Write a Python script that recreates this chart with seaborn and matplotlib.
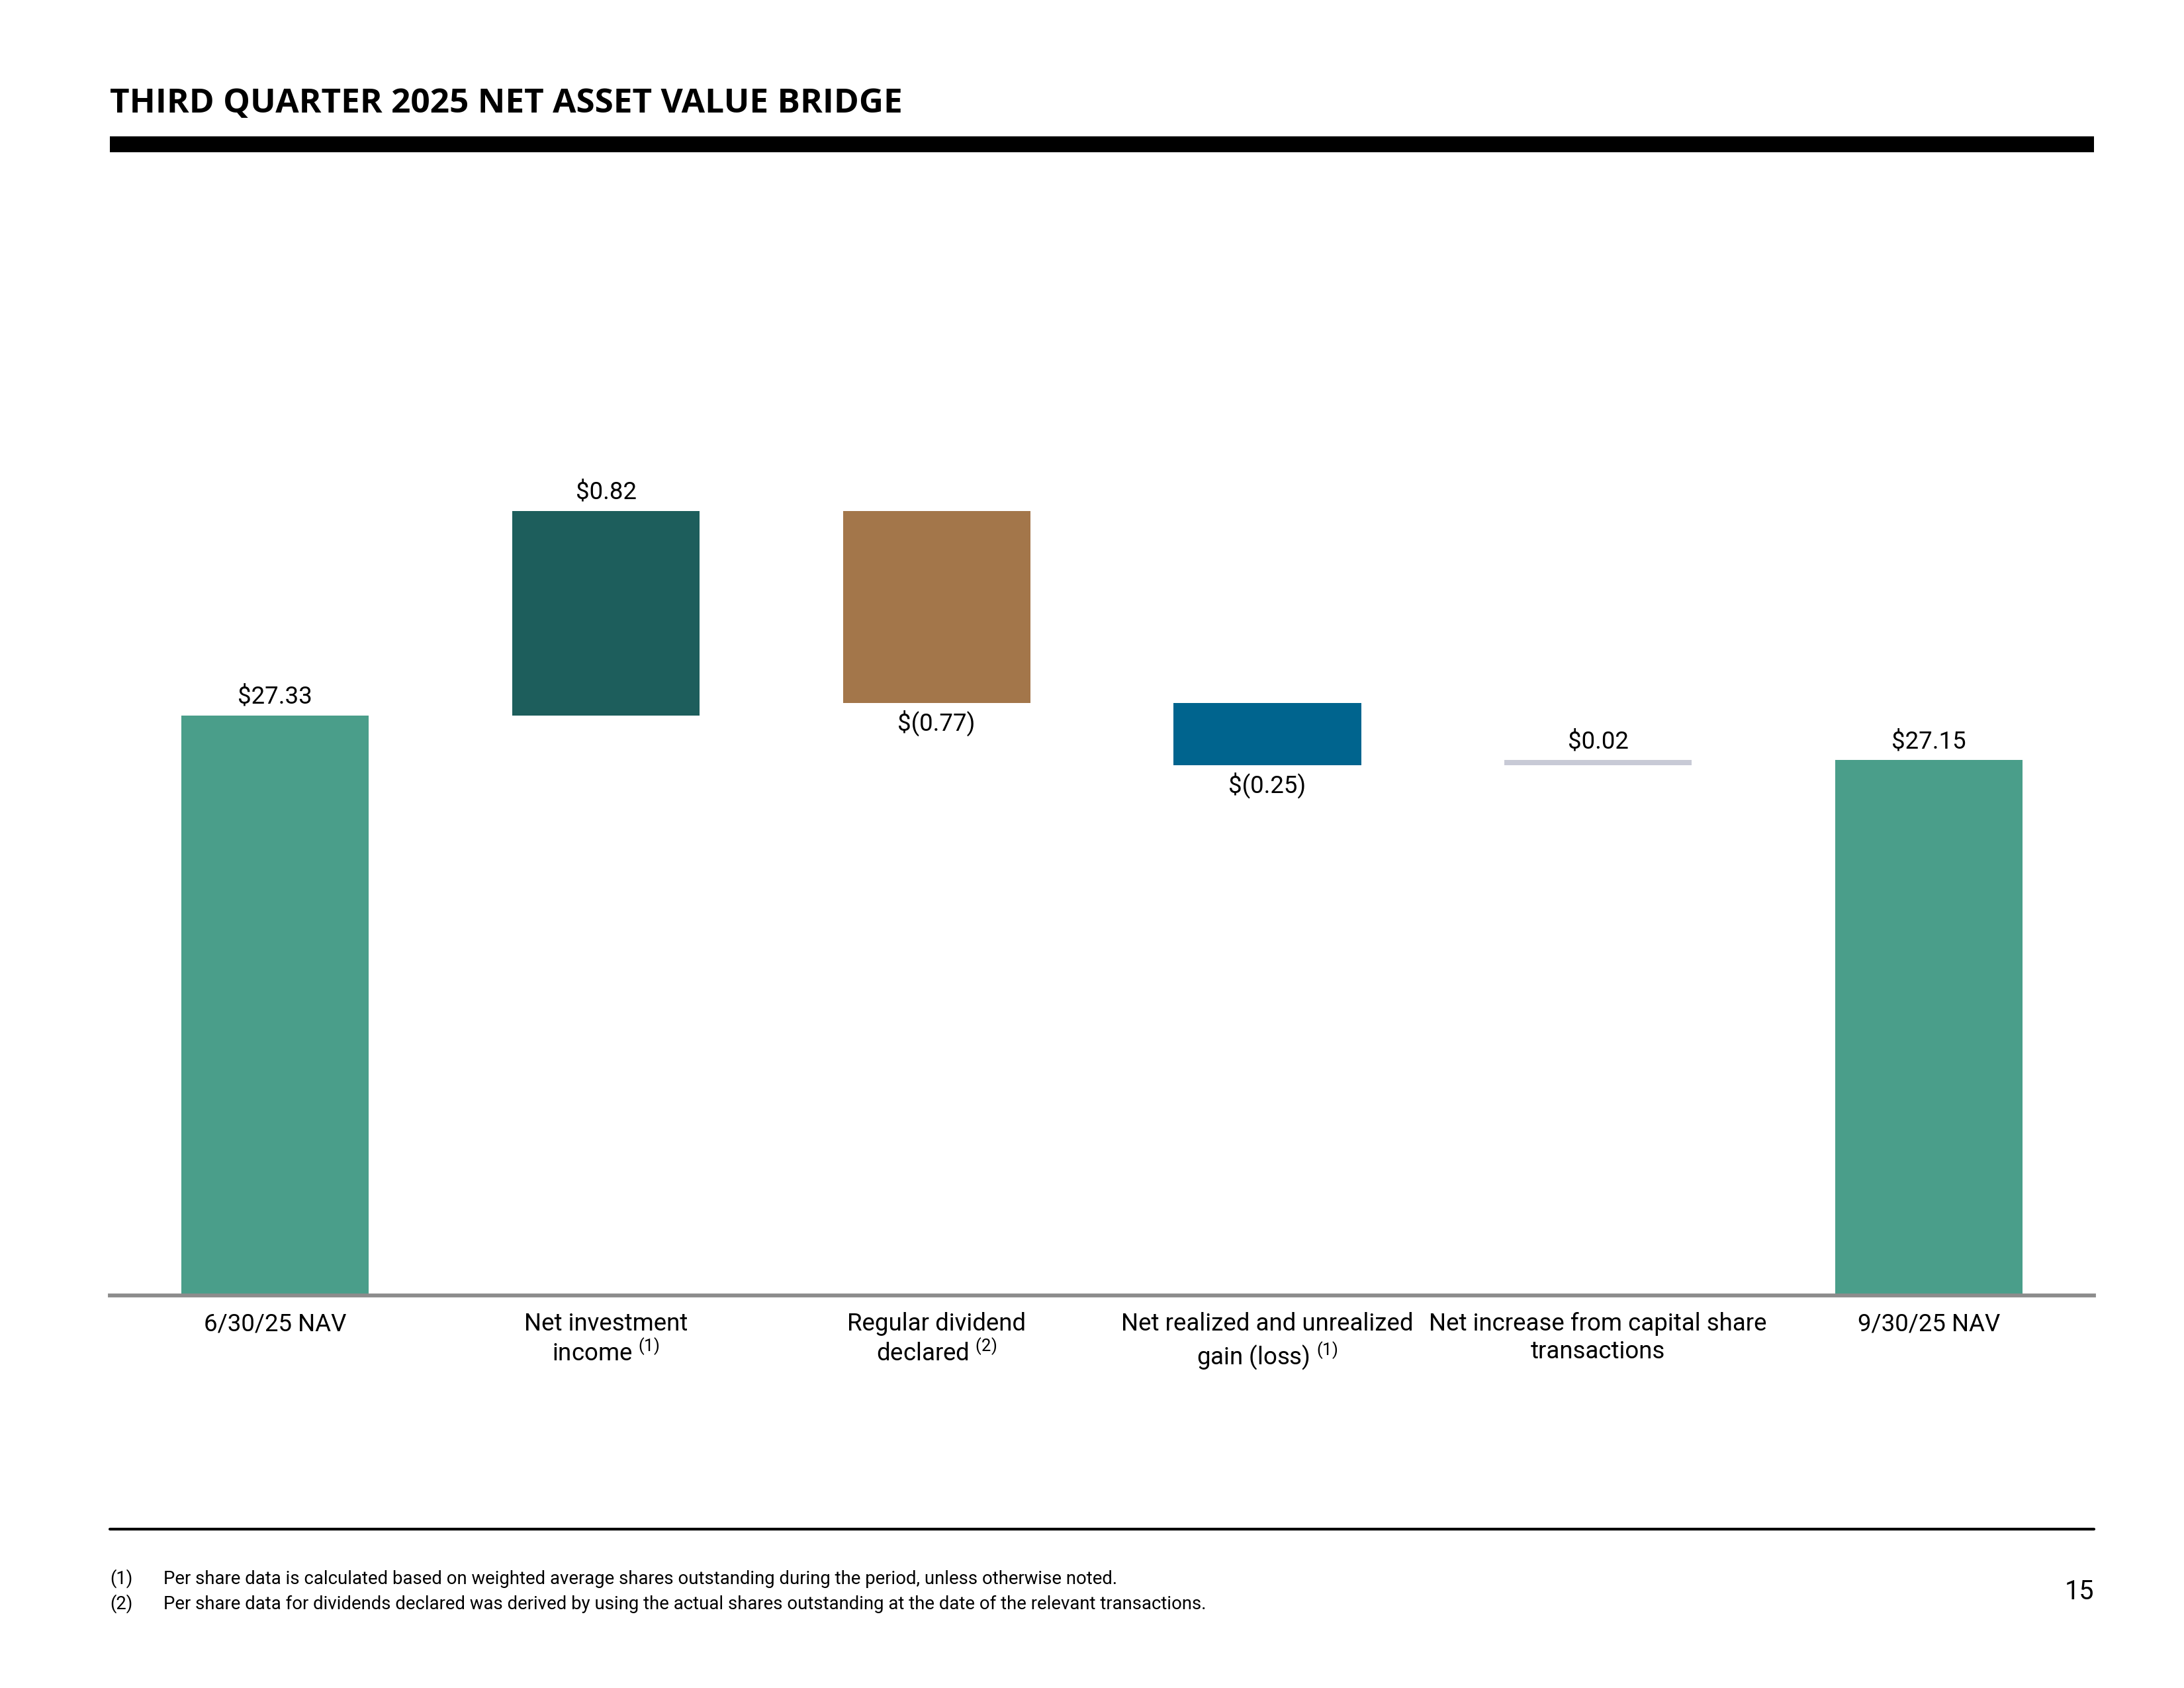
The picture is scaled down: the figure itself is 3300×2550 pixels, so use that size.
import matplotlib
matplotlib.use("Agg")
import matplotlib.pyplot as plt
import matplotlib.patches as patches
import seaborn as sns

# chart data
categories = ["6/30/25 NAV", "Net investment\nincome", "Regular dividend\ndeclared",
              "Net realized and unrealized\ngain (loss)",
              "Net increase from capital share\ntransactions", "9/30/25 NAV"]
notes = ["", "(1)", "(2)", "(1)", "", ""]
changes = [27.33, 0.82, -0.77, -0.25, 0.02, 27.15]
is_total = [True, False, False, False, False, True]
colors = ["#4A9E8A", "#1D5E5C", "#A3764A", "#00648E", "#C8CAD6", "#4A9E8A"]
footnotes = ["Per share data is calculated based on weighted average shares outstanding during the period, unless otherwise noted.",
             "Per share data for dividends declared was derived by using the actual shares outstanding at the date of the relevant transactions."]
page_number = "15"

sns.set_theme(style="white")
body = "Roboto"
plt.rcParams["font.family"] = [body, "DejaVu Sans"]
plt.rcParams["mathtext.fontset"] = "custom"
plt.rcParams["mathtext.rm"] = body
plt.rcParams["mathtext.it"] = body

# running totals for the waterfall
bottoms = []
running = 0.0
for v, tot in zip(changes, is_total):
    if tot:
        bottoms.append(0.0)
        running = v
    else:
        bottoms.append(running)
        running += v

fig = plt.figure(figsize=(11, 8.5), dpi=300)
ax = fig.add_axes([0.0503, 0.2325, 0.9085, 0.590])

sns.barplot(x=categories, y=changes, hue=categories, palette=colors, legend=False,
            width=0.567, linewidth=0, saturation=1, ax=ax)

for p, b in zip(ax.patches, bottoms):
    p.set_y(b)

ax.set_ylim(25, 29)
ax.set_xlim(-0.5, 5.5)

# value labels
for i, (v, b) in enumerate(zip(changes, bottoms)):
    end = b + v
    txt = r"\$%.2f" % v if v >= 0 else r"\$(%.2f)" % abs(v)
    if v >= 0:
        ax.annotate(txt, (i, end), xytext=(0, 2.5), textcoords="offset points",
                    ha="center", va="bottom", fontsize=8.8, color="black")
    else:
        ax.annotate(txt, (i, end), xytext=(0, -2.5), textcoords="offset points",
                    ha="center", va="top", fontsize=8.8, color="black")

labels = []
for c, n in zip(categories, notes):
    labels.append(c + (r" $^{%s}$" % n if n else ""))
ax.set_xticks(range(len(categories)), labels)
ax.tick_params(axis="x", length=0, pad=6, labelsize=8.8, labelcolor="black")
ax.set_yticks([])
ax.set_xlabel("")
ax.set_ylabel("")
for s in ["top", "left", "right"]:
    ax.spines[s].set_visible(False)
ax.spines["bottom"].set_color("#8C8C8C")
ax.spines["bottom"].set_linewidth(1.4)

# title and header rule
fig.text(0.0503, 0.9333, "THIRD QUARTER 2025 NET ASSET VALUE BRIDGE", family=["Open Sans", "DejaVu Sans"],
         fontweight="bold", fontsize=12.3, color="black", va="baseline", ha="left")
fig.add_artist(patches.Rectangle((0.0503, 0.9098), 0.9085, 0.0094, transform=fig.transFigure,
                                 facecolor="black", edgecolor="none"))

# footer
fig.add_artist(plt.Line2D([0.0503, 0.9588], [0.0941, 0.0941], transform=fig.transFigure,
                          color="black", linewidth=1.0))
for k, (y, t) in enumerate(zip([0.0616, 0.0467], footnotes)):
    fig.text(0.0503, y, "(%d)" % (k + 1), fontsize=6.6, va="baseline", ha="left", color="black")
    fig.text(0.0747, y, t, fontsize=6.6, va="baseline", ha="left", color="black")
fig.text(0.9588, 0.0525, page_number, fontsize=9.5, va="baseline", ha="right", color="black")

fig.savefig("out.png", dpi=300)
